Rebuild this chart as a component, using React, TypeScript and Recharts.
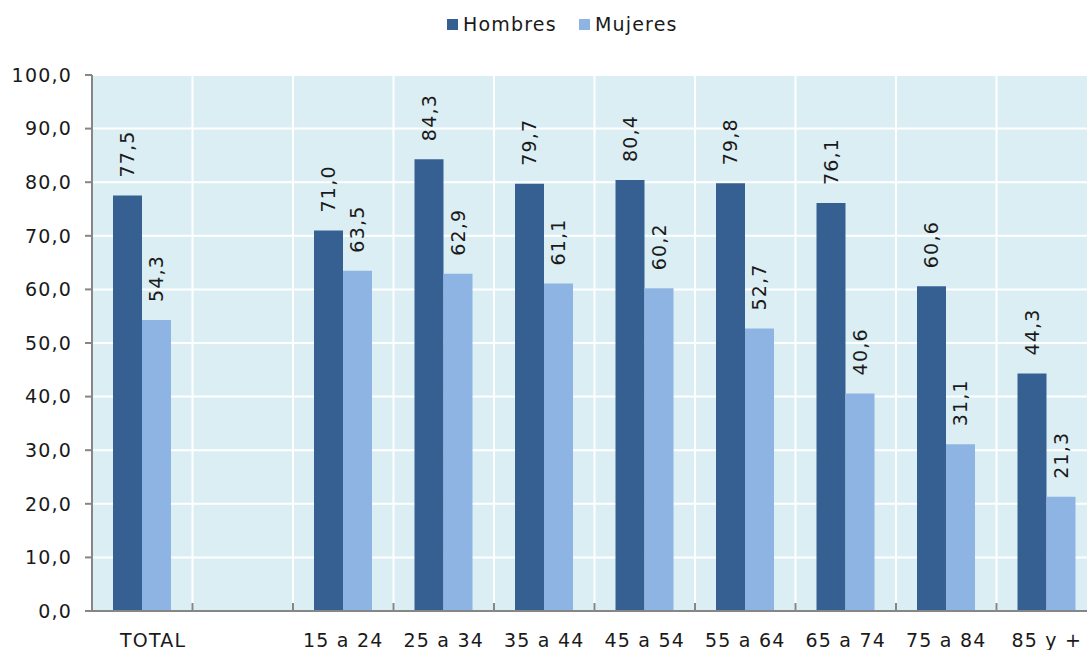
import { BarChart, Bar, XAxis, YAxis, CartesianGrid } from "recharts";

const CATEGORIES = [
  "\u00a0\u00a0\u00a0TOTAL",
  "",
  "15 a 24",
  "25 a 34",
  "35 a 44",
  "45 a 54",
  "55 a 64",
  "65 a 74",
  "75 a 84",
  "85 y +",
];
const HOMBRES = [77.5, null, 71.0, 84.3, 79.7, 80.4, 79.8, 76.1, 60.6, 44.3];
const MUJERES = [54.3, null, 63.5, 62.9, 61.1, 60.2, 52.7, 40.6, 31.1, 21.3];
const Y_TICKS = [0, 10, 20, 30, 40, 50, 60, 70, 80, 90, 100];

const HOMBRES_COLOR = "#376092";
const MUJERES_COLOR = "#8EB4E3";
const PLOT_BG = "#DBEEF4";
const AXIS_COLOR = "#868686";
const FONT = "'DejaVu Sans', Verdana, sans-serif";
const SPACING = 1.2;

const data = CATEGORIES.map((cat, i) => ({
  cat,
  hombres: HOMBRES[i],
  mujeres: MUJERES[i],
}));

const fmt = (v: number) => v.toFixed(1).replace(".", ",");

function ValueLabel(props: any) {
  const { x, y, width, value } = props;
  if (value == null) return null;
  const cx = x + width / 2;
  const ty = y - 18;
  return (
    <text
      x={cx}
      y={ty}
      transform={`rotate(-90, ${cx}, ${ty})`}
      textAnchor="start"
      dominantBaseline="central"
      fontSize={19}
      letterSpacing={SPACING}
      fontFamily={FONT}
      fill="#1a1a1a"
    >
      {fmt(value)}
    </text>
  );
}

function CatTick(props: any) {
  const { x, y, payload, bandWidth } = props;
  const right = x + bandWidth / 2;
  return (
    <g>
      <line x1={right} y1={y} x2={right} y2={y - 8} stroke={AXIS_COLOR} strokeWidth={2} />
      <text
        x={x}
        y={y + 36}
        textAnchor="middle"
        fontSize={19}
        letterSpacing={SPACING}
        fontFamily={FONT}
        fill="#1a1a1a"
      >
        {payload.value}
      </text>
    </g>
  );
}

export default function App() {
  const chartWidth = 1100;
  const plotLeft = 92;
  const plotRight = 3;
  const bandWidth = (chartWidth - plotLeft - plotRight) / CATEGORIES.length;

  return (
    <div
      style={{
        position: "absolute",
        left: 0,
        top: 0,
        width: 1087,
        height: 650,
        overflow: "hidden",
        background: "#fff",
        fontFamily: FONT,
      }}
    >
      <div
        style={{
          position: "absolute",
          top: 13,
          left: 447,
          display: "flex",
          alignItems: "center",
          fontSize: 19,
          letterSpacing: SPACING,
          color: "#1a1a1a",
        }}
      >
        <span style={{ width: 11, height: 11, background: HOMBRES_COLOR, marginRight: 5 }} />
        <span style={{ marginRight: 22 }}>Hombres</span>
        <span style={{ width: 11, height: 11, background: MUJERES_COLOR, marginRight: 5 }} />
        <span>Mujeres</span>
      </div>
      <BarChart
        width={chartWidth}
        height={650}
        data={data}
        margin={{ top: 75, right: plotRight, bottom: 0, left: 0 }}
        barGap={0}
        barSize={29}
      >
        <CartesianGrid
          fill={PLOT_BG}
          stroke="#ffffff"
          strokeWidth={2}
          verticalCoordinatesGenerator={(p: any) =>
            CATEGORIES.slice(1).map((_, i) => p.offset.left + (i + 1) * (p.offset.width / CATEGORIES.length))
          }
        />
        <XAxis
          dataKey="cat"
          height={39}
          tickSize={0}
          tickMargin={0}
          interval={0}
          axisLine={{ stroke: AXIS_COLOR, strokeWidth: 2 }}
          tickLine={false}
          tick={<CatTick bandWidth={bandWidth} />}
        />
        <YAxis
          width={plotLeft}
          domain={[0, 100]}
          ticks={Y_TICKS}
          tickFormatter={fmt}
          tickSize={7}
          tickMargin={13}
          axisLine={{ stroke: AXIS_COLOR, strokeWidth: 2 }}
          tickLine={{ stroke: AXIS_COLOR, strokeWidth: 2 }}
          tick={{ fontSize: 19, fill: "#1a1a1a", fontFamily: FONT, letterSpacing: SPACING }}
        />
        <Bar
          dataKey="hombres"
          fill={HOMBRES_COLOR}
          isAnimationActive={false}
          label={<ValueLabel />}
        />
        <Bar
          dataKey="mujeres"
          fill={MUJERES_COLOR}
          isAnimationActive={false}
          label={<ValueLabel />}
        />
      </BarChart>
    </div>
  );
}
